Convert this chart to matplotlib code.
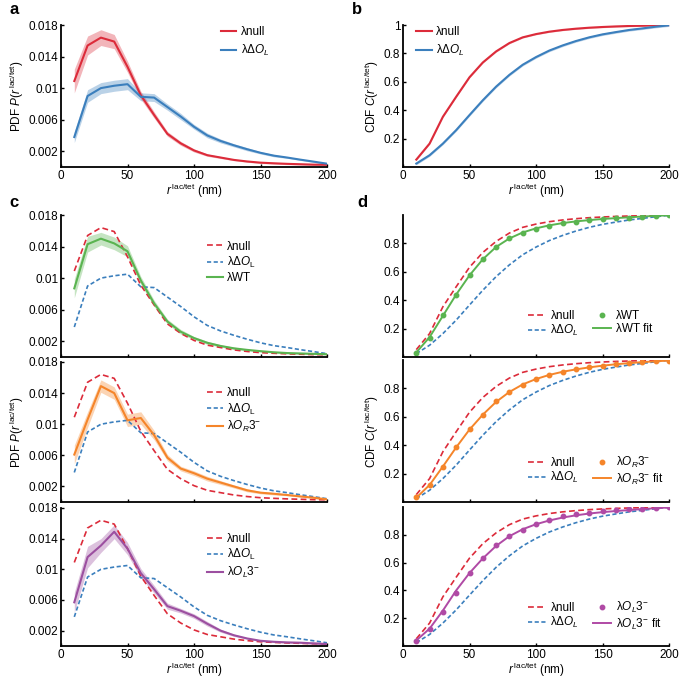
import numpy as np
import matplotlib
matplotlib.use('Agg')
import matplotlib.pyplot as plt

plt.rcParams['font.family'] = ['Liberation Sans', 'DejaVu Sans']
plt.rcParams['mathtext.fontset'] = 'custom'
plt.rcParams['mathtext.rm'] = 'Liberation Sans'
plt.rcParams['mathtext.it'] = 'Liberation Sans:italic'
plt.rcParams['font.size'] = 8

# distance bins (nm)
r = [10, 20, 30, 40, 50, 60, 70, 80, 90, 100, 110, 120, 130, 140, 150, 160, 170, 180, 190, 200]

# PDF values
pdf_null = [0.0109, 0.0154, 0.0164, 0.0159, 0.0127, 0.0091, 0.0066, 0.0042, 0.0030, 0.0021,
            0.0015, 0.0012, 0.0009, 0.0007, 0.00055, 0.00047, 0.0004, 0.00035, 0.0003, 0.00028]
pdf_null_err = [0.0015, 0.0012, 0.0010, 0.0009, 0.0007, 0.0005, 0.0004, 0.0003, 0.00025, 0.0002,
                0.00015, 0.00012, 0.0001, 0.0001, 0.0001, 0.0001, 0.0001, 0.0001, 0.0001, 0.0001]
pdf_dol = [0.0038, 0.0090, 0.0100, 0.0103, 0.0105, 0.0089, 0.0088, 0.0076, 0.0064, 0.0051,
           0.0040, 0.0033, 0.00275, 0.00225, 0.0018, 0.00144, 0.0012, 0.00093, 0.00068, 0.00042]
pdf_dol_err = [0.0007, 0.0008, 0.0007, 0.0007, 0.0007, 0.0005, 0.0005, 0.0004, 0.0004, 0.0003,
               0.0003, 0.00025, 0.0002, 0.0002, 0.00015, 0.00015, 0.0001, 0.0001, 0.0001, 0.0001]
pdf_wt = [0.0087, 0.0143, 0.0150, 0.0144, 0.0134, 0.0097, 0.0068, 0.0045, 0.0032, 0.0024,
          0.0018, 0.0014, 0.0011, 0.0009, 0.00074, 0.0006, 0.0005, 0.00045, 0.0004, 0.00035]
pdf_wt_err = [0.0012, 0.0010, 0.0008, 0.0008, 0.0007, 0.0005, 0.0004, 0.0003, 0.0003, 0.0002,
              0.0002, 0.00015, 0.00015, 0.0001, 0.0001, 0.0001, 0.0001, 0.0001, 0.0001, 0.0001]
pdf_or3 = [0.0061, 0.0106, 0.0149, 0.0140, 0.0105, 0.0108, 0.0086, 0.0057, 0.0043, 0.0037,
           0.0030, 0.0025, 0.0020, 0.0015, 0.0012, 0.00106, 0.0009, 0.00072, 0.00055, 0.00034]
pdf_or3_err = [0.0012, 0.0010, 0.0008, 0.0008, 0.0008, 0.0008, 0.0006, 0.0004, 0.0003, 0.0003,
               0.0003, 0.00025, 0.0002, 0.0002, 0.00015, 0.00015, 0.0001, 0.0001, 0.0001, 0.0001]
pdf_ol3 = [0.0057, 0.0116, 0.0131, 0.0149, 0.0127, 0.0095, 0.0074, 0.0052, 0.0046, 0.0039,
           0.0029, 0.0020, 0.0014, 0.00098, 0.00068, 0.00055, 0.00047, 0.00043, 0.00034, 0.00026]
pdf_ol3_err = [0.0013, 0.0014, 0.0009, 0.0009, 0.0008, 0.0006, 0.0005, 0.0004, 0.0003, 0.0003,
               0.0003, 0.0002, 0.00015, 0.0001, 0.0001, 0.0001, 0.0001, 0.0001, 0.0001, 0.0001]

# CDF values
cdf_null = [0.052, 0.165, 0.354, 0.495, 0.632, 0.736, 0.814, 0.873, 0.913, 0.936,
            0.953, 0.965, 0.974, 0.981, 0.986, 0.990, 0.993, 0.995, 0.998, 1.0]
cdf_dol = [0.024, 0.083, 0.165, 0.260, 0.366, 0.470, 0.566, 0.649, 0.720, 0.774,
           0.820, 0.856, 0.887, 0.913, 0.934, 0.950, 0.965, 0.976, 0.988, 0.998]
cdf_wt = [0.030, 0.134, 0.294, 0.435, 0.574, 0.689, 0.776, 0.835, 0.875, 0.904,
          0.925, 0.941, 0.953, 0.962, 0.969, 0.976, 0.981, 0.988, 0.993, 0.998]
cdf_wt_fit = [0.032, 0.140, 0.290, 0.440, 0.575, 0.688, 0.775, 0.835, 0.877, 0.906,
              0.927, 0.943, 0.955, 0.964, 0.972, 0.978, 0.984, 0.989, 0.994, 0.998]
cdf_or3 = [0.035, 0.118, 0.247, 0.388, 0.511, 0.612, 0.711, 0.776, 0.824, 0.864,
           0.892, 0.918, 0.934, 0.948, 0.960, 0.972, 0.979, 0.986, 0.991, 0.995]
cdf_or3_fit = [0.030, 0.120, 0.250, 0.385, 0.510, 0.615, 0.705, 0.775, 0.828, 0.866,
               0.895, 0.917, 0.934, 0.948, 0.960, 0.970, 0.978, 0.985, 0.991, 0.996]
cdf_ol3 = [0.035, 0.120, 0.242, 0.384, 0.525, 0.635, 0.729, 0.788, 0.835, 0.875,
           0.908, 0.936, 0.948, 0.960, 0.972, 0.979, 0.984, 0.988, 0.993, 0.998]
cdf_ol3_fit = [0.040, 0.125, 0.255, 0.400, 0.525, 0.630, 0.720, 0.790, 0.840, 0.876,
               0.903, 0.924, 0.940, 0.953, 0.963, 0.971, 0.978, 0.985, 0.991, 0.997]

c_red = '#dc2b3a'
c_blue = '#3b7fbd'
c_green = '#5ab450'
c_orange = '#f5852a'
c_purple = '#9c4fa0'

lab_null = '\u03bbnull'
lab_dol = '\u03bb\u0394$O_L$'
lab_dol2 = '\u03bb\u0394$O_\\mathrm{L}$'
xlab = '$r^{\\,\\mathrm{lac/tet}}$ (nm)'
pdf_lab = 'PDF $P$($r^{\\,\\mathrm{lac/tet}}$)'
cdf_lab = 'CDF $C$($r^{\\,\\mathrm{lac/tet}}$)'

W, H = 683.0, 679.0


def make_ax(fig, left, top, right, bottom):
    ax = fig.add_axes([left / W, (H - bottom) / H, (right - left) / W, (bottom - top) / H])
    ax.spines['top'].set_visible(False)
    ax.spines['right'].set_visible(False)
    ax.spines['left'].set_linewidth(1.3)
    ax.spines['bottom'].set_linewidth(1.3)
    ax.tick_params(direction='in', length=2.5, width=1, labelsize=8.5, pad=2)
    ax.set_xlim(0, 200)
    ax.set_xticks([0, 50, 100, 150, 200])
    return ax


def pdf_axes(ax):
    ax.set_ylim(0, 0.018)
    ax.set_yticks([0.002, 0.006, 0.01, 0.014, 0.018])
    ax.set_yticklabels(['0.002', '0.006', '0.01', '0.014', '0.018'])


def cdf_axes(ax):
    ax.set_ylim(0, 1.0)
    ax.set_yticks([0.2, 0.4, 0.6, 0.8])
    ax.set_yticklabels(['0.2', '0.4', '0.6', '0.8'])


def band(ax, y, e, color, label=None, ls='-'):
    y = np.array(y)
    e = np.array(e)
    ax.fill_between(r, y - e, y + e, color=color, alpha=0.35, lw=0)
    ax.plot(r, y, color=color, lw=1.5, label=label, ls=ls)


fig = plt.figure(figsize=(6.83, 6.79), dpi=100)

# panel a
ax = make_ax(fig, 61, 25, 327, 167)
band(ax, pdf_null, pdf_null_err, c_red, lab_null)
band(ax, pdf_dol, pdf_dol_err, c_blue, lab_dol)
pdf_axes(ax)
ax.set_ylabel(pdf_lab, fontsize=8.5, labelpad=2)
ax.set_xlabel(xlab, fontsize=8.5, labelpad=0)
ax.legend(loc='upper left', bbox_to_anchor=(0.6, 0.99), frameon=False, handlelength=1.3,
          handletextpad=0.4, borderpad=0, borderaxespad=0, labelspacing=0.4, fontsize=8.5)

# panel b
ax = make_ax(fig, 403, 25, 669, 167)
band(ax, cdf_null, [0.005] * len(r), c_red, lab_null)
band(ax, cdf_dol, [0.008] * len(r), c_blue, lab_dol)
ax.set_ylim(0, 1.0)
ax.set_yticks([0.2, 0.4, 0.6, 0.8, 1.0])
ax.set_yticklabels(['0.2', '0.4', '0.6', '0.8', '1'])
ax.set_ylabel(cdf_lab, fontsize=8.5, labelpad=2)
ax.set_xlabel(xlab, fontsize=8.5, labelpad=0)
ax.legend(loc='upper left', bbox_to_anchor=(0.05, 0.99), frameon=False, handlelength=1.3,
          handletextpad=0.4, borderpad=0, borderaxespad=0, labelspacing=0.4, fontsize=8.5)

# panel c
c_rows = [(215, 357, pdf_wt, pdf_wt_err, c_green, '\u03bbWT'),
          (362, 502, pdf_or3, pdf_or3_err, c_orange, '\u03bb$O_R$3$^{-}$'),
          (508, 646, pdf_ol3, pdf_ol3_err, c_purple, '\u03bb$O_L$3$^{-}$')]
for i, (top, bot, y, e, col, lab) in enumerate(c_rows):
    ax = make_ax(fig, 61, top, 327, bot)
    ax.plot(r, pdf_null, color=c_red, lw=1.2, ls=(0, (3.5, 2)), label=lab_null)
    ax.plot(r, pdf_dol, color=c_blue, lw=1.2, ls=(0, (2.5, 1.5)), label=lab_dol2)
    band(ax, y, e, col, lab)
    pdf_axes(ax)
    if i < 2:
        ax.set_xticklabels([])
    else:
        ax.set_xlabel(xlab, fontsize=8.5, labelpad=0)
    if i == 1:
        ax.set_ylabel(pdf_lab, fontsize=8.5, labelpad=2)
    ax.legend(loc='upper left', bbox_to_anchor=(0.55, 0.82), frameon=False, handlelength=1.3,
              handletextpad=0.4, borderpad=0, borderaxespad=0, labelspacing=0.2, fontsize=8.5)

# panel d
d_rows = [(215, 357, cdf_wt, cdf_wt_fit, c_green, '\u03bbWT'),
          (360, 502, cdf_or3, cdf_or3_fit, c_orange, '\u03bb$O_R$3$^{-}$'),
          (507, 646, cdf_ol3, cdf_ol3_fit, '#b04aa5', '\u03bb$O_L$3$^{-}$')]
for i, (top, bot, pts, fit, col, lab) in enumerate(d_rows):
    ax = make_ax(fig, 403, top, 669, bot)
    h1, = ax.plot(r, cdf_null, color=c_red, lw=1.2, ls=(0, (3.5, 2)), label=lab_null)
    h2, = ax.plot(r, cdf_dol, color=c_blue, lw=1.2, ls=(0, (2.5, 1.5)), label=lab_dol)
    h4, = ax.plot(r, fit, color=col, lw=1.4, label=lab + ' fit')
    h3, = ax.plot(r, pts, color=col, ls='none', marker='o', ms=3.2, label=lab)
    cdf_axes(ax)
    if i < 2:
        ax.set_xticklabels([])
    else:
        ax.set_xlabel(xlab, fontsize=8.5, labelpad=0)
    if i == 1:
        ax.set_ylabel(cdf_lab, fontsize=8.5, labelpad=2)
    ax.legend([h1, h2, h3, h4], [lab_null, lab_dol, lab, lab + ' fit'], ncol=2,
              loc='upper left', bbox_to_anchor=(0.47, 0.33), frameon=False, handlelength=1.5,
              handletextpad=0.4, borderpad=0, borderaxespad=0, labelspacing=0.1,
              columnspacing=1.2, fontsize=8.5)

fig.text(9 / W, 1 - 14 / H, 'a', fontsize=12, fontweight='bold')
fig.text(352 / W, 1 - 14 / H, 'b', fontsize=12, fontweight='bold')
fig.text(9 / W, 1 - 207 / H, 'c', fontsize=12, fontweight='bold')
fig.text(357 / W, 1 - 207 / H, 'd', fontsize=12, fontweight='bold')

plt.savefig('out.png', dpi=100)
